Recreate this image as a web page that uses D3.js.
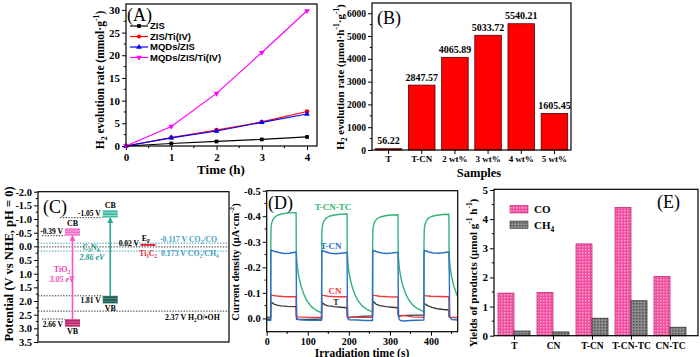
<!DOCTYPE html>
<html><head><meta charset="utf-8">
<script src="https://cdnjs.cloudflare.com/ajax/libs/d3/7.8.5/d3.min.js"></script>
<style>body{margin:0;background:#fff} svg{display:block}</style>
</head><body>
<svg id="c" width="700" height="357"></svg>
<script>
// ================= DATA =================
// Panel A
const timeH = [0, 1, 2, 3, 4];
const seriesNamesA = ["ZIS", "ZIS/Ti(IV)", "MQDs/ZIS", "MQDs/ZIS/Ti(IV)"];
const zisA = [0, 0.55, 1.0, 1.45, 2.0];
const zisTiA = [0, 1.85, 3.5, 5.3, 7.6];
const mqdZisA = [0, 1.8, 3.3, 5.2, 7.05];
const mqdZisTiA = [0, 4.3, 11.6, 20.6, 29.8];
const yTicksA = [0, 5, 10, 15, 20, 25, 30];
const xTicksA = [0, 1, 2, 3, 4];
// Panel B
const samplesB = ["T", "T-CN", "2 wt%", "3 wt%", "4 wt%", "5 wt%"];
const ratesB = [56.22, 2847.57, 4065.89, 5033.72, 5540.21, 1605.45];
const yTicksB = [0, 1000, 2000, 3000, 4000, 5000, 6000];
// Panel C
const materialsC = ["TiO2", "C3N4", "Ti3C2"];
const cbLevelsC = [-0.39, -1.05];
const vbLevelsC = [2.66, 1.81];
const gapLabelsC = ["3.05 eV", "2.86 eV"];
const fermiLevelC = 0.02;
const redoxC = [-0.117, 0.173, 2.37];
const redoxLabelsC = ["CO2/CO", "CO2/CH4", "H2O/•OH"];
const yTicksC = [-2.0, -1.5, -1.0, -0.5, 0.0, 0.5, 1.0, 1.5, 2.0, 2.5, 3.0, 3.5];
// Panel D  ([time s, current µA/cm2])
const tcntcD = [
[0,-0.006],[9.6,-0.007],[10,-0.3],[10.6,-0.355],[12,-0.372],[15,-0.386],[20,-0.397],[28,-0.405],[40,-0.41],[55,-0.413],[71.6,-0.414],
[72,-0.27],[73,-0.23],[75,-0.196],[78,-0.165],[83,-0.13],[90,-0.096],[98,-0.068],[108,-0.047],[120,-0.032],[133.6,-0.022],
[134,-0.3],[134.6,-0.35],[136,-0.366],[139,-0.38],[144,-0.392],[152,-0.4],[165,-0.405],[180,-0.408],[195.6,-0.41],
[196,-0.27],[197,-0.23],[199,-0.196],[202,-0.165],[207,-0.13],[214,-0.096],[222,-0.07],[232,-0.05],[244,-0.035],[257.6,-0.026],
[258,-0.3],[258.6,-0.348],[260,-0.364],[263,-0.378],[268,-0.39],[276,-0.397],[289,-0.402],[304,-0.405],[319.6,-0.406],
[320,-0.27],[321,-0.23],[323,-0.196],[326,-0.165],[331,-0.13],[338,-0.097],[346,-0.072],[356,-0.052],[368,-0.037],[382.6,-0.027],
[383,-0.3],[383.6,-0.35],[385,-0.366],[388,-0.38],[393,-0.392],[401,-0.399],[414,-0.404],[429,-0.407],[443.6,-0.408],
[444,-0.27],[445,-0.23],[447,-0.196],[450,-0.165],[455,-0.13],[462,-0.096],[465,-0.085]
];
const tcnD = [
[0,0.006],[9.6,0.008],[10,-0.25],[10.6,-0.268],[13,-0.266],[20,-0.262],[30,-0.258],[42,-0.254],[55,-0.255],[65,-0.258],[71.6,-0.26],
[72,-0.17],[72.6,-0.05],[73.6,0.0],[76,0.004],[90,0.006],[110,0.007],[133.6,0.007],
[134,-0.25],[134.6,-0.265],[137,-0.264],[145,-0.26],[155,-0.255],[168,-0.253],[180,-0.255],[190,-0.257],[195.6,-0.258],
[196,-0.17],[196.6,-0.05],[197.6,0.0],[200,0.005],[220,0.006],[240,0.008],[257.6,0.008],
[258,-0.25],[258.6,-0.266],[261,-0.265],[270,-0.26],[280,-0.256],[292,-0.254],[305,-0.256],[314,-0.258],[319.6,-0.258],
[320,-0.17],[320.6,-0.05],[321.6,0.0],[325,0.008],[335,0.01],[350,0.008],[365,0.007],[382.6,0.006],
[383,-0.25],[383.6,-0.266],[386,-0.265],[395,-0.26],[405,-0.256],[418,-0.255],[430,-0.257],[438,-0.259],[443.6,-0.26],
[444,-0.19],[444.6,-0.18],[445.2,-0.05],[446,-0.005],[450,0.004],[465,0.006]
];
const cnD = [
[0,-0.003],[9.6,-0.003],[10,-0.085],[10.6,-0.093],[14,-0.09],[25,-0.088],[40,-0.086],[55,-0.085],[71.6,-0.085],
[72,-0.02],[73,-0.006],[90,-0.005],[110,-0.004],[133.6,-0.004],
[134,-0.085],[134.6,-0.092],[138,-0.09],[150,-0.087],[170,-0.085],[195.6,-0.085],
[196,-0.02],[197,-0.006],[215,-0.005],[235,-0.004],[257.6,-0.004],
[258,-0.085],[258.6,-0.092],[262,-0.09],[275,-0.087],[295,-0.085],[319.6,-0.084],
[320,-0.02],[321,-0.006],[330,-0.012],[340,-0.01],[355,-0.006],[382.6,-0.004],
[383,-0.085],[383.6,-0.091],[387,-0.089],[400,-0.087],[420,-0.086],[443.6,-0.085],
[444,-0.02],[445,-0.005],[465,-0.004]
];
const tD = [
[0,0.003],[9.6,0.003],[10,-0.05],[10.6,-0.064],[13,-0.062],[18,-0.056],[25,-0.052],[35,-0.049],[50,-0.047],[71.6,-0.046],
[72,-0.01],[73,0.003],[100,0.004],[133.6,0.002],
[134,-0.05],[134.6,-0.062],[137,-0.059],[142,-0.053],[150,-0.049],[165,-0.046],[180,-0.044],[195.6,-0.042],
[196,-0.008],[197,-0.002],[210,-0.005],[230,-0.008],[257.6,-0.01],
[258,-0.055],[258.6,-0.068],[261,-0.064],[266,-0.056],[275,-0.05],[290,-0.046],[305,-0.044],[319.6,-0.042],
[320,-0.015],[321,-0.01],[340,-0.012],[360,-0.013],[382.6,-0.013],
[383,-0.05],[383.6,-0.06],[386,-0.056],[392,-0.05],[402,-0.043],[415,-0.038],[430,-0.035],[443.6,-0.033],
[444,-0.01],[445,-0.004],[465,-0.003]
];
const seriesNamesD = ["T-CN-TC", "T-CN", "CN", "T"];
const xTicksD = [0, 100, 200, 300, 400];
const yTicksD = [-0.5, -0.4, -0.3, -0.2, -0.1, 0.0];
// Panel E
const catsE = ["T", "CN", "T-CN", "T-CN-TC", "CN-TC"];
const coE = [1.46, 1.48, 3.15, 4.4, 2.03];
const ch4E = [0.16, 0.13, 0.6, 1.2, 0.29];
const yTicksE = [0, 1, 2, 3, 4, 5];

// ================= DRAW =================
const SERIF = "'Liberation Serif','Times New Roman',serif";
const SANS = "'Liberation Sans',Arial,sans-serif";
const svg = d3.select('#c');
const defs = svg.append('defs');

function rich(sel, parts, fs) {
  let shift = 0;
  parts.forEach(([s, t]) => {
    const ts = sel.append('tspan').text(s);
    const target = t === 'sub' ? fs * 0.3 : t === 'sup' ? -fs * 0.4 : 0;
    ts.attr('dy', target - shift);
    if (t !== 'n') ts.attr('font-size', fs * 0.68);
    shift = target;
  });
}
function frame(x0, y0, x1, y1) {
  svg.append('rect').attr('x', x0).attr('y', y0).attr('width', x1 - x0).attr('height', y1 - y0)
    .attr('fill', 'none').attr('stroke', '#000').attr('stroke-width', 1.2);
}
function styleAxis(a, fs) {
  a.select('.domain').remove();
  a.attr('font-family', SERIF).attr('font-size', fs).attr('font-weight', 'bold');
  a.selectAll('line').attr('stroke', '#000');
  a.selectAll('text').attr('fill', '#000');
}
function leftAxis(scale, ticks, x, fmt, minor, fs) {
  const a = svg.append('g').attr('transform', `translate(${x},0)`)
    .call(d3.axisLeft(scale).tickValues(ticks).tickSize(4).tickSizeOuter(0).tickPadding(2).tickFormat(fmt));
  styleAxis(a, fs || 10.5);
  if (minor) a.selectAll('.mn').data(minor).enter().append('line').attr('x1', 0).attr('x2', -2.2)
    .attr('y1', d => scale(d)).attr('y2', d => scale(d)).attr('stroke', '#000');
  return a;
}
function bottomAxis(scale, ticks, y, fmt, minor, fs, pad) {
  const ax = d3.axisBottom(scale).tickSize(4).tickSizeOuter(0).tickPadding(pad == null ? 3 : pad);
  if (ticks) ax.tickValues(ticks);
  if (fmt) ax.tickFormat(fmt);
  const a = svg.append('g').attr('transform', `translate(0,${y})`).call(ax);
  styleAxis(a, fs || 10.5);
  if (minor) a.selectAll('.mn').data(minor).enter().append('line').attr('y1', 0).attr('y2', 2.2)
    .attr('x1', d => scale(d)).attr('x2', d => scale(d)).attr('stroke', '#000');
  return a;
}
function yLabel(cx, cy, parts, fs) {
  const t = svg.append('text').attr('transform', `translate(${cx + fs * 0.35},${cy}) rotate(-90)`)
    .attr('text-anchor', 'middle').attr('font-family', SERIF).attr('font-weight', 'bold').attr('font-size', fs);
  rich(t, parts, fs);
}
function plainText(x, y, str, fs, opts = {}) {
  return svg.append('text').attr('x', x).attr('y', y).text(str)
    .attr('font-family', opts.family || SERIF).attr('font-weight', opts.weight || 'bold')
    .attr('font-size', fs).attr('fill', opts.fill || '#000').attr('text-anchor', opts.anchor || 'start')
    .attr('font-style', opts.style || 'normal');
}

// ---------- Panel A ----------
{
  const xA = d3.scaleLinear().domain([0, 4.22]).range([126, 317]);
  const yA = d3.scaleLinear().domain([0, 31.3]).range([146, 4]);
  bottomAxis(xA, xTicksA, 146, d3.format('d'), d3.range(0.5, 4.2, 1), 11);
  leftAxis(yA, yTicksA, 126, d3.format('d'), d3.range(2.5, 31, 5), 11);
  const sets = [zisA, zisTiA, mqdZisA, mqdZisTiA];
  const cols = ['#000000', '#ff0000', '#0000ff', '#ff00ff'];
  const syms = [d3.symbolSquare, d3.symbolCircle, d3.symbolTriangle, d3.symbolTriangle];
  const rots = [0, 0, 0, 180];
  const line = d3.line().x((d, i) => xA(timeH[i])).y(d => yA(d));
  sets.forEach((s, k) => {
    svg.append('path').attr('d', line(s)).attr('fill', 'none').attr('stroke', cols[k]).attr('stroke-width', 1.2);
    svg.selectAll(null).data(s).enter().append('path')
      .attr('d', d3.symbol().type(syms[k]).size(k === 1 ? 16 : 14))
      .attr('transform', (d, i) => `translate(${xA(timeH[i])},${yA(d)}) rotate(${rots[k]})`)
      .attr('fill', cols[k]);
  });
  frame(126, 4, 317, 146);
  const ly = d3.scalePoint().domain(seriesNamesA).range([26, 57.5]);
  seriesNamesA.forEach((n, k) => {
    const y = ly(n);
    svg.append('line').attr('x1', 130).attr('x2', 148).attr('y1', y).attr('y2', y).attr('stroke', cols[k]).attr('stroke-width', 1.2);
    svg.append('path').attr('d', d3.symbol().type(syms[k]).size(14)).attr('transform', `translate(139,${y}) rotate(${rots[k]})`).attr('fill', cols[k]);
    plainText(150, y + 3.4, n, 9.5, { family: SANS });
  });
  plainText(127, 21, '(A)', 18, { weight: 'normal' });
  yLabel(100, 80, [['H', 'n'], ['2', 'sub'], [' evolution rate (mmol·g', 'n'], ['-1', 'sup'], [')', 'n']], 11.5);
  plainText(221, 174, 'Time (h)', 13, { anchor: 'middle' });
}

// ---------- Panel B ----------
{
  const xB = d3.scaleBand().domain(samplesB).range([372, 571]).paddingInner(0.2).paddingOuter(0.1);
  const yB = d3.scaleLinear().domain([0, 6450]).range([150, 3]);
  svg.selectAll(null).data(ratesB).enter().append('rect')
    .attr('x', (d, i) => xB(samplesB[i])).attr('width', xB.bandwidth())
    .attr('y', d => yB(d)).attr('height', d => 150 - yB(d))
    .attr('fill', '#ff0000').attr('stroke', '#5a0000').attr('stroke-width', 0.8);
  svg.selectAll(null).data(ratesB).enter().append('text')
    .attr('x', (d, i) => xB(samplesB[i]) + xB.bandwidth() / 2).attr('y', d => yB(d) - 4.5)
    .attr('text-anchor', 'middle').attr('font-family', SERIF).attr('font-weight', 'bold').attr('font-size', 10)
    .text(d => d.toFixed(2));
  bottomAxis(xB, null, 150, null, null, 9, 1.5);
  leftAxis(yB, yTicksB, 372, d3.format('d'), d3.range(500, 6500, 1000), 9.5);
  frame(372, 3, 571, 150);
  plainText(377, 24, '(B)', 18, { weight: 'normal' });
  yLabel(340, 77, [['H', 'n'], ['2', 'sub'], [' evolution rate (μmol·h', 'n'], ['-1', 'sup'], ['·g', 'n'], ['-1', 'sup'], [')', 'n']], 11);
  plainText(479, 177, 'Samples', 12.5, { anchor: 'middle' });
}

// ---------- Panel C ----------
{
  const yC = d3.scaleLinear().domain([-2, 3.5]).range([191.7, 342]);
  const xC = d3.scalePoint().domain(materialsC).range([72.5, 148]);
  const L = 38, R = 229;
  function stripe(id, base, line) {
    const p = defs.append('pattern').attr('id', id).attr('width', 4).attr('height', 2.6).attr('patternUnits', 'userSpaceOnUse');
    p.append('rect').attr('width', 4).attr('height', 2.6).attr('fill', base);
    p.append('rect').attr('y', 1.8).attr('width', 4).attr('height', 0.8).attr('fill', line);
  }
  stripe('stTiCB', '#f46ccc', '#fbb6e4');
  stripe('stTiVB', '#b8246c', '#e070a8');
  stripe('stCnCB', '#3fbba4', '#a6e3d6');
  stripe('stCnVB', '#1b5a50', '#5e9a8f');
  function marker(id, color) {
    defs.append('marker').attr('id', id).attr('viewBox', '0 0 10 10').attr('refX', 9).attr('refY', 5)
      .attr('markerWidth', 6).attr('markerHeight', 6).attr('markerUnits', 'userSpaceOnUse').attr('orient', 'auto')
      .append('path').attr('d', 'M0,0 L10,5 L0,10 z').attr('fill', color);
  }
  marker('arP', '#ff4fc6');
  marker('arT', '#2ea592');
  const dot = (x1, x2, v, col) => svg.append('line').attr('x1', x1).attr('x2', x2).attr('y1', yC(v)).attr('y2', yC(v))
    .attr('stroke', col).attr('stroke-width', 1).attr('stroke-dasharray', '1.4,1.4');
  const bw = 15;
  dot(L + 4, xC('TiO2') - bw / 2, cbLevelsC[0], '#333');
  dot(L + 4, xC('TiO2') - bw / 2, vbLevelsC[0], '#333');
  dot(60, xC('C3N4') - bw / 2, cbLevelsC[1], '#333');
  dot(L, xC('C3N4') - bw / 2, vbLevelsC[1], '#333');
  dot(L, R, redoxC[0], '#3f9fb5');
  dot(L, R, fermiLevelC, '#333');
  dot(L, R, redoxC[1], '#3f9fb5');
  dot(L, R, redoxC[2], '#333');
  const fills = [['stTiCB', 'stTiVB'], ['stCnCB', 'stCnVB']];
  const arrows = ['arP', 'arT'];
  const acol = ['#ff4fc6', '#2ea592'];
  const tcol = ['#f03cb0', '#22988a'];
  ['TiO2', 'C3N4'].forEach((m, k) => {
    const cx = xC(m);
    const cb = cbLevelsC[k], vb = vbLevelsC[k];
    svg.append('line').attr('x1', cx).attr('x2', cx).attr('y1', yC(vb)).attr('y2', yC(cb))
      .attr('stroke', acol[k]).attr('stroke-width', 1.6).attr('marker-end', `url(#${arrows[k]})`);
    svg.append('rect').attr('x', cx - bw / 2).attr('width', bw).attr('y', yC(cb - 0.28)).attr('height', yC(cb) - yC(cb - 0.28))
      .attr('fill', `url(#${fills[k][0]})`);
    svg.append('rect').attr('x', cx - bw / 2).attr('width', bw).attr('y', yC(vb)).attr('height', yC(vb + 0.28) - yC(vb))
      .attr('fill', `url(#${fills[k][1]})`);
    plainText(cx, yC(cb - 0.28) - 2, 'CB', 8, { anchor: 'middle' });
    plainText(cx, yC(vb + 0.28) + 7.5, 'VB', 8, { anchor: 'middle' });
    plainText(cx - bw / 2 - 2, yC(cb) - 1.5, cb.toFixed(2) + ' V', 7.5, { anchor: 'end' });
    plainText(cx - bw / 2 - 2, yC(vb) + 7.5, vb.toFixed(2) + ' V', 7.5, { anchor: 'end' });
  });
  const t1 = svg.append('text').attr('x', 62).attr('y', 272).attr('text-anchor', 'middle')
    .attr('font-family', SERIF).attr('font-weight', 'bold').attr('font-size', 8).attr('fill', tcol[0]);
  rich(t1, [['TiO', 'n'], ['2', 'sub']], 8);
  plainText(62, 282, gapLabelsC[0], 8, { anchor: 'middle', fill: tcol[0], style: 'italic' });
  const t2 = svg.append('text').attr('x', 91).attr('y', 250).attr('text-anchor', 'middle')
    .attr('font-family', SERIF).attr('font-weight', 'bold').attr('font-size', 8).attr('fill', tcol[1]);
  rich(t2, [['C', 'n'], ['3', 'sub'], ['N', 'n'], ['4', 'sub']], 8);
  plainText(92, 259.5, gapLabelsC[1], 8, { anchor: 'middle', fill: tcol[1], style: 'italic' });
  const fx = xC('Ti3C2');
  svg.append('line').attr('x1', fx - 7.5).attr('x2', fx + 7.5).attr('y1', yC(fermiLevelC) - 2).attr('y2', yC(fermiLevelC) - 2)
    .attr('stroke', '#e8202a').attr('stroke-width', 2);
  const ef = svg.append('text').attr('x', fx - 2).attr('y', 241).attr('text-anchor', 'middle')
    .attr('font-family', SERIF).attr('font-weight', 'bold').attr('font-size', 8);
  rich(ef, [['E', 'n'], ['F', 'sub']], 8);
  const tc = svg.append('text').attr('x', fx).attr('y', 256).attr('text-anchor', 'middle')
    .attr('font-family', SERIF).attr('font-weight', 'bold').attr('font-size', 7.5).attr('fill', '#e8202a');
  rich(tc, [['Ti', 'n'], ['3', 'sub'], ['C', 'n'], ['2', 'sub']], 7.5);
  plainText(fx - 9, 245.5, fermiLevelC.toFixed(2) + ' V', 7.5, { anchor: 'end' });
  const r1 = svg.append('text').attr('x', 160).attr('y', yC(redoxC[0]) - 1).attr('font-family', SERIF)
    .attr('font-weight', 'bold').attr('font-size', 7.8).attr('fill', '#3f9fc8');
  rich(r1, [[redoxC[0].toFixed(3) + ' V CO', 'n'], ['2', 'sub'], ['/CO', 'n']], 7.8);
  const r2 = svg.append('text').attr('x', 161).attr('y', yC(redoxC[1]) + 4.5).attr('font-family', SERIF)
    .attr('font-weight', 'bold').attr('font-size', 7.8).attr('fill', '#3f9fc8');
  rich(r2, [[redoxC[1].toFixed(3) + ' V CO', 'n'], ['2', 'sub'], ['/CH', 'n'], ['4', 'sub']], 7.8);
  const r3 = svg.append('text').attr('x', 165).attr('y', yC(redoxC[2]) + 8.5).attr('font-family', SERIF)
    .attr('font-weight', 'bold').attr('font-size', 7.8).attr('fill', '#000');
  rich(r3, [[redoxC[2].toFixed(2) + ' V H', 'n'], ['2', 'sub'], ['O/•OH', 'n']], 7.8);
  leftAxis(yC, yTicksC, L, d => d.toFixed(1), d3.range(-1.75, 3.5, 0.5), 10.5);
  frame(L, 191.7, R, 342);
  plainText(43, 213, '(C)', 18, { weight: 'normal' });
  yLabel(9, 264, [['Potential (V vs NHE, pH = 0)', 'n']], 12.5);
}

// ---------- Panel D ----------
{
  const xD = d3.scaleLinear().domain([0, 465]).range([266.7, 457.7]);
  const yD = d3.scaleLinear().domain([-0.5, 0.052]).range([190.7, 331.7]);
  defs.append('clipPath').attr('id', 'clipD').append('rect').attr('x', 266.7).attr('y', 190.7).attr('width', 191).attr('height', 141);
  const line = d3.line().x(d => xD(d[0])).y(d => yD(d[1]));
  const sets = [tcntcD, tcnD, cnD, tD];
  const cols = ['#2fb574', '#2c6fc9', '#ec3a3a', '#3a3a3a'];
  const g = svg.append('g').attr('clip-path', 'url(#clipD)');
  [3, 2, 0, 1].forEach(k => {
    g.append('path').attr('d', line(sets[k])).attr('fill', 'none').attr('stroke', cols[k]).attr('stroke-width', 1.4)
      .attr('stroke-linejoin', 'round');
  });
  bottomAxis(xD, xTicksD, 331.7, d3.format('d'), d3.range(50, 460, 100), 10, 2);
  leftAxis(yD, yTicksD, 266.7, d => d.toFixed(1), d3.range(-0.45, 0.05, 0.1), 10.5);
  frame(266.7, 190.7, 457.7, 331.7);
  plainText(268, 209, '(D)', 18, { weight: 'normal' });
  const lx = [333, 331, 335, 336];
  const lyy = [210, 249, 294, 305];
  seriesNamesD.forEach((n, k) => plainText(lx[k], lyy[k], n, 9, { anchor: 'middle', fill: cols[k] }));
  yLabel(235, 262, [['Current density (μA·cm', 'n'], ['-2', 'sup'], [')', 'n']], 10.5);
  plainText(362, 356.5, 'Irradiation time (s)', 11.5, { anchor: 'middle' });
}

// ---------- Panel E ----------
{
  const xE = d3.scalePoint().domain(catsE).range([514, 670]);
  const yE = d3.scaleLinear().domain([0, 5]).range([335.7, 190]);
  const bw = 16;
  const pCO = defs.append('pattern').attr('id', 'patCO').attr('width', 3).attr('height', 3).attr('patternUnits', 'userSpaceOnUse');
  pCO.append('rect').attr('width', 3).attr('height', 3).attr('fill', '#f0509f');
  pCO.append('rect').attr('width', 1.5).attr('height', 1.5).attr('fill', '#f8a3cc');
  const pCH = defs.append('pattern').attr('id', 'patCH').attr('width', 3).attr('height', 3).attr('patternUnits', 'userSpaceOnUse');
  pCH.append('rect').attr('width', 3).attr('height', 3).attr('fill', '#8c8c8c');
  pCH.append('rect').attr('width', 1.5).attr('height', 1.5).attr('fill', '#505050');
  svg.selectAll(null).data(coE).enter().append('rect')
    .attr('x', (d, i) => xE(catsE[i]) - bw).attr('width', bw).attr('y', d => yE(d)).attr('height', d => yE(0) - yE(d))
    .attr('fill', 'url(#patCO)').attr('stroke', '#c8207a').attr('stroke-width', 0.8);
  svg.selectAll(null).data(ch4E).enter().append('rect')
    .attr('x', (d, i) => xE(catsE[i])).attr('width', bw).attr('y', d => yE(d)).attr('height', d => yE(0) - yE(d))
    .attr('fill', 'url(#patCH)').attr('stroke', '#333').attr('stroke-width', 0.8);
  bottomAxis(xE, null, 335.7, null, null, 9.5, 3);
  leftAxis(yE, yTicksE, 494, d3.format('d'), d3.range(0.5, 5, 1), 11);
  frame(494, 189.3, 698, 335.7);
  plainText(657, 208, '(E)', 18, { weight: 'normal' });
  svg.append('rect').attr('x', 510).attr('y', 205.5).attr('width', 18).attr('height', 7.5).attr('fill', 'url(#patCO)').attr('stroke', '#c8207a').attr('stroke-width', 0.6);
  svg.append('rect').attr('x', 510).attr('y', 221).attr('width', 18).attr('height', 7.5).attr('fill', 'url(#patCH)').attr('stroke', '#333').attr('stroke-width', 0.6);
  plainText(534, 213, 'CO', 11);
  const ch = svg.append('text').attr('x', 534).attr('y', 228.5).attr('font-family', SERIF).attr('font-weight', 'bold').attr('font-size', 11);
  rich(ch, [['CH', 'n'], ['4', 'sub']], 11);
  yLabel(473, 273, [['Yields of products (μmol g', 'n'], ['-1', 'sup'], [' h', 'n'], ['-1', 'sup'], [')', 'n']], 11);
}
</script>
</body></html>
